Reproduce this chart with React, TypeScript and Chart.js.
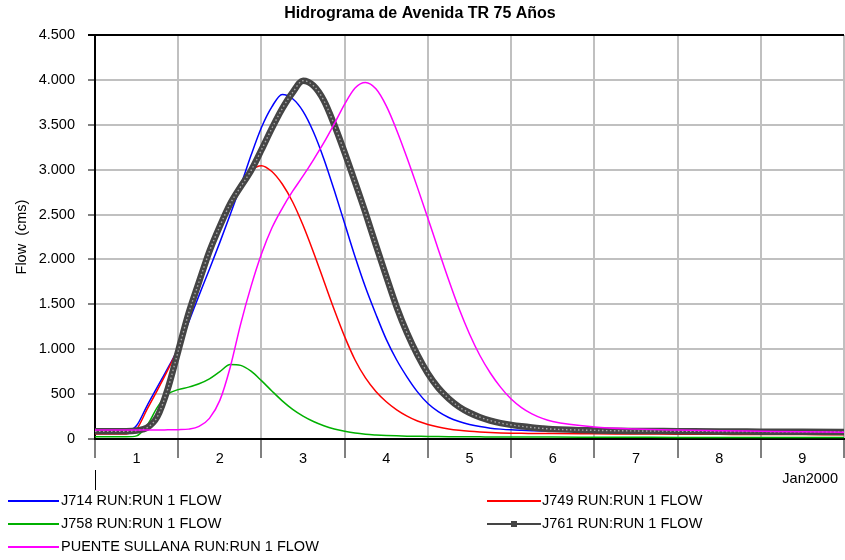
import React, { useEffect, useRef } from 'react';
import { Chart, registerables } from 'chart.js';

Chart.register(...registerables);

const TITLE = 'Hidrograma de Avenida TR 75 Años';
const Y_TITLE = 'Flow  (cms)';
const DAY_LABELS = ['1', '2', '3', '4', '5', '6', '7', '8', '9'];
const MONTH_LABEL = 'Jan2000';
const Y_TICKS = [0, 500, 1000, 1500, 2000, 2500, 3000, 3500, 4000, 4500];

// time since start, hours
const HOURS = [
  0, 3, 6, 9, 12, 15, 18, 21, 24, 27, 30, 33, 36, 39, 42, 45, 48, 51, 54, 57, 60, 63, 66, 69,
  72, 75, 78, 81, 84, 87, 90, 93, 96, 99, 102, 105, 108, 111, 114, 117, 120, 123, 126, 129, 132,
  144, 156, 168, 180, 192, 204, 216,
];

const J714 = [
  80, 80, 80, 82, 150, 370, 580, 790, 1010, 1300, 1600, 1890, 2190, 2500, 2820, 3160,
  3470, 3700, 3838, 3790, 3650, 3420, 3120, 2770, 2400, 2030, 1690, 1390, 1110, 880, 690, 525,
  395, 305, 240, 195, 162, 138, 121, 110, 102, 97, 93, 90, 88,
  83, 78, 74, 70, 67, 64, 62,
];

const J749 = [
  55, 55, 55, 57, 110, 330, 545, 770, 1020, 1330, 1680, 2030, 2340, 2610, 2840, 2990,
  3045, 2980, 2840, 2640, 2380, 2080, 1760, 1440, 1140, 880, 680, 530, 415, 325, 255, 200,
  162, 133, 112, 97, 86, 78, 72, 68, 65, 63, 62, 61, 60,
  58, 56, 54, 52, 50, 49, 48,
];

const J758 = [
  25, 25, 25, 25, 35, 150, 355, 500, 550, 578, 615, 670, 750, 830, 820, 755,
  650, 535, 425, 330, 255, 195, 148, 112, 86, 66, 53, 45, 39, 35, 32, 30,
  28, 27, 26, 25, 24, 24, 23, 23, 22, 22, 21, 21, 21,
  20, 19, 18, 18, 17, 17, 16,
];

const J761 = [
  85, 85, 85, 86, 95, 125, 250, 560, 980, 1400, 1750, 2090, 2370, 2620, 2810, 2990,
  3220, 3460, 3680, 3860, 3990, 3935, 3770, 3500, 3190, 2860, 2520, 2160, 1810, 1470, 1180, 935,
  730, 570, 450, 358, 292, 243, 205, 177, 157, 141, 128, 118, 110,
  96, 90, 87, 84, 82, 80, 78,
];

const PUENTE = [
  100, 100, 100, 100, 100, 100, 100, 102, 104, 110, 140, 230, 430, 800, 1280, 1700,
  2060, 2350, 2570, 2760, 2930, 3110, 3300, 3510, 3730, 3910, 3970, 3900, 3710, 3440, 3130, 2800,
  2460, 2110, 1770, 1450, 1170, 930, 735, 575, 445, 350, 280, 230, 195,
  135, 112, 100, 92, 86, 80, 76,
];

const SERIES = [
  { label: 'J714 RUN:RUN 1 FLOW', values: J714, color: '#0000ff', marker: false },
  { label: 'J749 RUN:RUN 1 FLOW', values: J749, color: '#ff0000', marker: false },
  { label: 'J758 RUN:RUN 1 FLOW', values: J758, color: '#00b000', marker: false },
  { label: 'J761 RUN:RUN 1 FLOW', values: J761, color: '#454545', marker: true },
  { label: 'PUENTE SULLANA RUN:RUN 1 FLOW', values: PUENTE, color: '#ff00ff', marker: false },
];

const FONT = "'Liberation Sans', Arial, Helvetica, sans-serif";

const fmt = (v: number) => String(Math.round(v)).replace(/\B(?=(\d{3})+(?!\d))/g, '.');

export default function App() {
  const ref = useRef<HTMLCanvasElement>(null);

  useEffect(() => {
    document.body.style.margin = '0';
    const toXY = (vals: number[]) => HOURS.map((h, i) => ({ x: h / 24, y: vals[i] }));

    const order: Record<string, number> = {
      'J714 RUN:RUN 1 FLOW': 6,
      'J749 RUN:RUN 1 FLOW': 5,
      'J758 RUN:RUN 1 FLOW': 4,
      'J761 RUN:RUN 1 FLOW': 3,
      'PUENTE SULLANA RUN:RUN 1 FLOW': 1,
    };

    const datasets: any[] = [];
    SERIES.forEach((s) => {
      datasets.push({
        label: s.label,
        data: toXY(s.values),
        borderColor: s.color,
        backgroundColor: s.color,
        borderWidth: s.marker ? 6.5 : 1.5,
        pointRadius: 0,
        cubicInterpolationMode: 'monotone',
        fill: false,
        order: order[s.label],
      });
      if (s.marker) {
        datasets.push({
          label: s.label + ' markers',
          data: toXY(s.values),
          borderColor: '#a8a8a8',
          borderWidth: 1.4,
          borderDash: [1.5, 2.5],
          pointRadius: 0,
          cubicInterpolationMode: 'monotone',
          fill: false,
          order: 2,
        });
      }
    });

    const decor = {
      id: 'decor',
      afterDraw(chart: any) {
        const { ctx, chartArea } = chart;
        ctx.save();
        // top frame line
        ctx.strokeStyle = '#000';
        ctx.lineWidth = 2;
        ctx.beginPath();
        ctx.moveTo(chartArea.left - 7, chartArea.top);
        ctx.lineTo(chartArea.right, chartArea.top);
        ctx.stroke();
        // long month tick
        ctx.lineWidth = 1;
        ctx.beginPath();
        ctx.moveTo(chartArea.left + 0.5, 470);
        ctx.lineTo(chartArea.left + 0.5, 490);
        ctx.stroke();
        // title
        ctx.fillStyle = '#000';
        ctx.font = `bold 16px ${FONT}`;
        ctx.textAlign = 'center';
        ctx.textBaseline = 'middle';
        ctx.fillText(TITLE, 420, 14);
        // month label
        ctx.font = `14.5px ${FONT}`;
        ctx.textAlign = 'right';
        ctx.fillText(MONTH_LABEL, 838, 479);
        // legend
        const slots = [
          { x1: 8, x2: 59, tx: 61, y: 501 },
          { x1: 487, x2: 541, tx: 542, y: 501 },
          { x1: 8, x2: 59, tx: 61, y: 524 },
          { x1: 487, x2: 541, tx: 542, y: 524 },
          { x1: 8, x2: 59, tx: 61, y: 547 },
        ];
        SERIES.forEach((s, i) => {
          const p = slots[i];
          ctx.strokeStyle = s.color;
          ctx.lineWidth = 2;
          ctx.beginPath();
          ctx.moveTo(p.x1, p.y);
          ctx.lineTo(p.x2, p.y);
          ctx.stroke();
          if (s.marker) {
            const mx = (p.x1 + p.x2) / 2;
            ctx.fillStyle = '#454545';
            ctx.fillRect(mx - 3, p.y - 3, 6, 6);
          }
          ctx.fillStyle = '#000';
          ctx.font = `14.5px ${FONT}`;
          ctx.textAlign = 'left';
          ctx.textBaseline = 'middle';
          ctx.fillText(s.label, p.tx, p.y);
        });
        ctx.restore();
      },
    };

    const chart = new Chart(ref.current as HTMLCanvasElement, {
      type: 'line',
      data: { datasets },
      options: {
        responsive: false,
        animation: false,
        devicePixelRatio: 1,
        layout: { padding: { top: 35, right: 1, bottom: 0, left: 0 } },
        plugins: {
          legend: { display: false },
          title: { display: false },
          tooltip: { enabled: false },
        },
        scales: {
          x: {
            type: 'linear',
            min: 0,
            max: 9,
            afterFit(scale: any) {
              scale.height = 121;
            },
            afterBuildTicks(scale: any) {
              const t = [];
              for (let i = 0; i <= 18; i++) t.push({ value: i / 2 });
              scale.ticks = t;
            },
            ticks: {
              autoSkip: false,
              maxRotation: 0,
              padding: -8,
              color: '#000',
              font: { family: FONT, size: 14.5 },
              callback: (v: any) => {
                const n = Number(v);
                return Math.abs((n % 1) - 0.5) < 1e-6 ? DAY_LABELS[Math.floor(n)] : '';
              },
            },
            grid: {
              color: (c: any) => (c.tick && Number.isInteger(c.tick.value) ? '#c0c0c0' : 'rgba(0,0,0,0)'),
              tickColor: (c: any) => (c.tick && Number.isInteger(c.tick.value) ? '#000' : 'rgba(0,0,0,0)'),
              lineWidth: 2,
              tickWidth: 1,
              tickLength: 19,
            },
            border: { display: true, color: '#000', width: 2 },
          },
          y: {
            type: 'linear',
            min: 0,
            max: 4500,
            afterFit(scale: any) {
              scale.width = 95;
            },
            afterBuildTicks(scale: any) {
              scale.ticks = Y_TICKS.map((v) => ({ value: v }));
            },
            ticks: {
              padding: 13,
              color: '#000',
              font: { family: FONT, size: 14.5 },
              callback: (v: any) => fmt(Number(v)),
            },
            grid: {
              color: '#c0c0c0',
              tickColor: '#000',
              lineWidth: 2,
              tickWidth: 1,
              tickLength: 7,
            },
            border: { display: true, color: '#000', width: 2 },
            title: {
              display: true,
              text: Y_TITLE,
              color: '#000',
              font: { family: FONT, size: 14.5 },
              padding: { top: 13, bottom: 0 },
            },
          },
        },
      },
      plugins: [decor],
    } as any);

    return () => chart.destroy();
  }, []);

  return (
    <div style={{ width: 845, height: 560, position: 'relative', background: '#fff' }}>
      <canvas ref={ref} width={845} height={560} style={{ display: 'block', width: 845, height: 560 }} />
    </div>
  );
}
